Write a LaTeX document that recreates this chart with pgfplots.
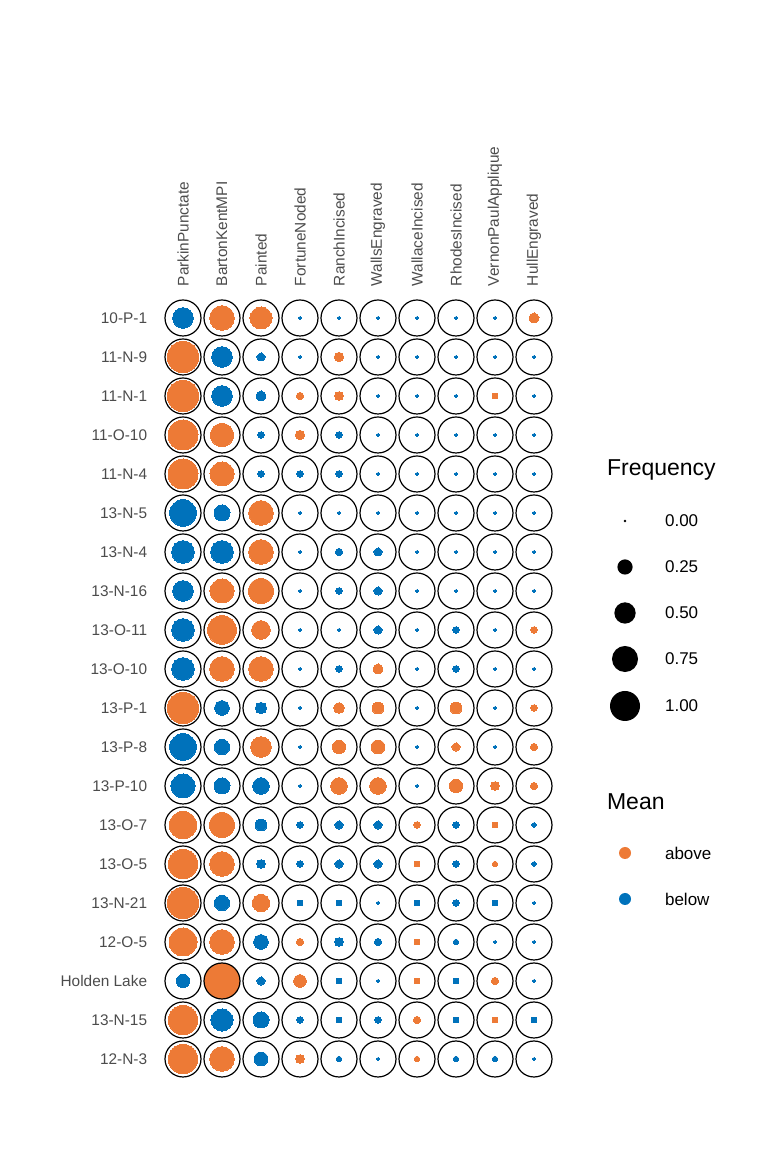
\documentclass[border=0pt]{standalone}
\usepackage{pgfplots}
\pgfplotsset{compat=1.18}
\usepackage{pgfplotstable}
\usepackage{fontspec}
\setmainfont{Liberation Sans}
\definecolor{corange}{HTML}{ED7A36}
\definecolor{cblue}{HTML}{0072BB}
\pgfplotstableread{
y c1 c2 c3 c4 c5 c6 c7 c8 c9 c10
20 -0.47 0.673 0.534 -0.003 -0.003 -0.003 -0.003 -0.003 -0.003 0.103
19 1.09 -0.47 -0.063 -0.003 0.089 -0.003 -0.003 -0.003 -0.003 -0.003
18 1.09 -0.47 -0.103 0.051 0.075 -0.003 -0.003 -0.003 0.031 -0.003
17 1.0 0.601 -0.041 0.089 -0.041 -0.003 -0.003 -0.003 -0.003 -0.003
16 1.0 0.637 -0.041 -0.041 -0.041 -0.003 -0.003 -0.003 -0.003 -0.003
15 -0.788 -0.278 0.673 -0.003 -0.003 -0.003 -0.003 -0.003 -0.003 -0.003
14 -0.567 -0.567 0.673 -0.003 -0.051 -0.063 -0.003 -0.003 -0.003 -0.003
13 -0.47 0.637 0.71 -0.003 -0.041 -0.063 -0.003 -0.003 -0.003 -0.003
12 -0.567 0.912 0.381 -0.003 -0.003 -0.063 -0.003 -0.041 -0.003 0.041
11 -0.567 0.673 0.673 -0.003 -0.041 0.103 -0.003 -0.041 -0.003 -0.003
10 1.09 -0.232 -0.135 -0.008 0.118 0.152 -0.003 0.152 -0.003 0.041
9 -0.788 -0.255 0.47 -0.003 0.19 0.21 -0.003 0.063 -0.003 0.051
8 -0.637 -0.278 -0.302 -0.003 0.302 0.302 -0.003 0.19 0.075 0.051
7 0.829 0.71 -0.152 -0.041 -0.063 -0.063 0.041 -0.041 0.031 -0.015
6 0.956 0.673 -0.075 -0.041 -0.063 -0.063 0.031 -0.041 0.023 -0.015
5 1.09 -0.255 0.328 -0.031 -0.031 -0.003 -0.031 -0.041 -0.031 -0.003
4 0.87 0.673 -0.232 0.051 -0.075 -0.051 0.031 -0.023 -0.003 -0.002
3 -0.19 1.39 -0.063 0.171 -0.031 -0.003 0.031 -0.031 0.051 -0.003
2 0.956 -0.534 -0.278 -0.041 -0.031 -0.041 0.051 -0.031 0.031 -0.031
1 0.956 0.673 -0.21 0.075 -0.023 -0.003 0.023 -0.023 -0.023 -0.003
}\freq
\begin{document}
\begin{tikzpicture}
\path (0,0) rectangle (384pt,576pt);
\begin{axis}[at={(81.75pt,36.75pt)}, anchor=south west, scale only axis,
  width=195pt, height=390pt, xmin=0.5, xmax=10.5, ymin=0.5, ymax=20.5,
  axis line style={draw=none}, major tick length=0pt, clip=false,
  xtick={1,...,10}, ytick={1,...,20},
  xticklabel pos=upper,
  xticklabels={ParkinPunctate,BartonKentMPI,Painted,FortuneNoded,RanchIncised,WallsEngraved,WallaceIncised,RhodesIncised,VernonPaulApplique,HullEngraved},
  yticklabels={12-N-3,13-N-15,Holden Lake,12-O-5,13-N-21,13-O-5,13-O-7,13-P-10,13-P-8,13-P-1,13-O-10,13-O-11,13-N-16,13-N-4,13-N-5,11-N-4,11-O-10,11-N-1,11-N-9,10-P-1},
  xticklabel style={rotate=90, anchor=west, inner sep=0pt, xshift=6pt, font=\fontsize{7.7}{9}\selectfont, text=black!70},
  yticklabel style={anchor=east, inner sep=0pt, xshift=-8pt, font=\fontsize{7.7}{9}\selectfont, text=black!70},
]
\pgfplotsinvokeforeach{1,...,10}{
\addplot[only marks, mark=*, scatter,
  visualization depends on={\thisrow{c#1}\as\val},
  scatter/@pre marker code/.code={\begingroup
    \pgfmathsetmacro\sz{0.5*sqrt(2+223*abs(\val))}%
    \pgfplotmarksize=\sz pt\relax
    \pgfmathparse{\val<0?1:0}%
    \ifnum\pgfmathresult=1 \pgfsetfillcolor{cblue}\pgfsetstrokecolor{cblue}\else\pgfsetfillcolor{corange}\pgfsetstrokecolor{corange}\fi
    \pgfsetlinewidth{0pt}},
  scatter/@post marker code/.code={\endgroup}]
  table[x expr=#1, y=y]{\freq};
\addplot[only marks, mark=o, mark size=9pt, black, line width=0.6pt]
  table[x expr=#1, y=y]{\freq};
}
\end{axis}
% legend
\node[anchor=west, font=\fontsize{11.5}{13}\selectfont] at (300pt,341pt) {Frequency};
\foreach \v/\yy/\t in {0/315.5/0.00, 0.25/292.5/0.25, 0.5/269.5/0.50, 0.75/246.5/0.75, 1/223/1.00}{
  \pgfmathsetmacro\r{0.5*sqrt(2+223*\v)}
  \fill (312.5pt,\yy pt) circle (\r pt);
  \node[anchor=west, font=\fontsize{8.5}{10}\selectfont] at (329pt,\yy pt) {\t};
}
\node[anchor=west, font=\fontsize{11.5}{13}\selectfont] at (300pt,175pt) {Mean};
\fill[corange] (312.5pt,149.5pt) circle (3pt);
\node[anchor=west, font=\fontsize{8.5}{10}\selectfont] at (329pt,149.5pt) {above};
\fill[cblue] (312.5pt,126.5pt) circle (3pt);
\node[anchor=west, font=\fontsize{8.5}{10}\selectfont] at (329pt,126.5pt) {below};
\end{tikzpicture}
\end{document}
